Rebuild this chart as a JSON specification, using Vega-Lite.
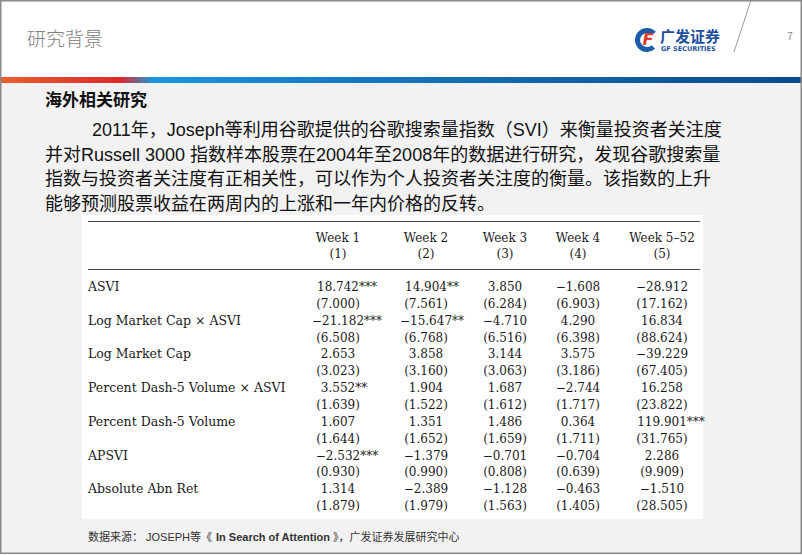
{
  "$schema": "https://vega.github.io/schema/vega-lite/v6.json",
  "width": 802,
  "height": 555,
  "padding": 0,
  "autosize": {"type": "none"},
  "background": "#f2f2f2",
  "config": {"view": {"stroke": null}, "text": {"font": "Noto Sans CJK SC"}},
  "datasets": {
    "cells": [
      {"var": "ASVI", "stat": "b", "col": 1, "text": "18.742***", "sig": 3},
      {"var": "ASVI", "stat": "b", "col": 2, "text": "14.904**", "sig": 2},
      {"var": "ASVI", "stat": "b", "col": 3, "text": "3.850", "sig": 0},
      {"var": "ASVI", "stat": "b", "col": 4, "text": "−1.608", "sig": 0},
      {"var": "ASVI", "stat": "b", "col": 5, "text": "−28.912", "sig": 0},
      {"var": "ASVI", "stat": "se", "col": 1, "text": "(7.000)", "sig": 0},
      {"var": "ASVI", "stat": "se", "col": 2, "text": "(7.561)", "sig": 0},
      {"var": "ASVI", "stat": "se", "col": 3, "text": "(6.284)", "sig": 0},
      {"var": "ASVI", "stat": "se", "col": 4, "text": "(6.903)", "sig": 0},
      {"var": "ASVI", "stat": "se", "col": 5, "text": "(17.162)", "sig": 0},
      {"var": "Log Market Cap × ASVI", "stat": "b", "col": 1, "text": "−21.182***", "sig": 3},
      {"var": "Log Market Cap × ASVI", "stat": "b", "col": 2, "text": "−15.647**", "sig": 2},
      {"var": "Log Market Cap × ASVI", "stat": "b", "col": 3, "text": "−4.710", "sig": 0},
      {"var": "Log Market Cap × ASVI", "stat": "b", "col": 4, "text": "4.290", "sig": 0},
      {"var": "Log Market Cap × ASVI", "stat": "b", "col": 5, "text": "16.834", "sig": 0},
      {"var": "Log Market Cap × ASVI", "stat": "se", "col": 1, "text": "(6.508)", "sig": 0},
      {"var": "Log Market Cap × ASVI", "stat": "se", "col": 2, "text": "(6.768)", "sig": 0},
      {"var": "Log Market Cap × ASVI", "stat": "se", "col": 3, "text": "(6.516)", "sig": 0},
      {"var": "Log Market Cap × ASVI", "stat": "se", "col": 4, "text": "(6.398)", "sig": 0},
      {"var": "Log Market Cap × ASVI", "stat": "se", "col": 5, "text": "(88.624)", "sig": 0},
      {"var": "Log Market Cap", "stat": "b", "col": 1, "text": "2.653", "sig": 0},
      {"var": "Log Market Cap", "stat": "b", "col": 2, "text": "3.858", "sig": 0},
      {"var": "Log Market Cap", "stat": "b", "col": 3, "text": "3.144", "sig": 0},
      {"var": "Log Market Cap", "stat": "b", "col": 4, "text": "3.575", "sig": 0},
      {"var": "Log Market Cap", "stat": "b", "col": 5, "text": "−39.229", "sig": 0},
      {"var": "Log Market Cap", "stat": "se", "col": 1, "text": "(3.023)", "sig": 0},
      {"var": "Log Market Cap", "stat": "se", "col": 2, "text": "(3.160)", "sig": 0},
      {"var": "Log Market Cap", "stat": "se", "col": 3, "text": "(3.063)", "sig": 0},
      {"var": "Log Market Cap", "stat": "se", "col": 4, "text": "(3.186)", "sig": 0},
      {"var": "Log Market Cap", "stat": "se", "col": 5, "text": "(67.405)", "sig": 0},
      {"var": "Percent Dash-5 Volume × ASVI", "stat": "b", "col": 1, "text": "3.552**", "sig": 2},
      {"var": "Percent Dash-5 Volume × ASVI", "stat": "b", "col": 2, "text": "1.904", "sig": 0},
      {"var": "Percent Dash-5 Volume × ASVI", "stat": "b", "col": 3, "text": "1.687", "sig": 0},
      {"var": "Percent Dash-5 Volume × ASVI", "stat": "b", "col": 4, "text": "−2.744", "sig": 0},
      {"var": "Percent Dash-5 Volume × ASVI", "stat": "b", "col": 5, "text": "16.258", "sig": 0},
      {"var": "Percent Dash-5 Volume × ASVI", "stat": "se", "col": 1, "text": "(1.639)", "sig": 0},
      {"var": "Percent Dash-5 Volume × ASVI", "stat": "se", "col": 2, "text": "(1.522)", "sig": 0},
      {"var": "Percent Dash-5 Volume × ASVI", "stat": "se", "col": 3, "text": "(1.612)", "sig": 0},
      {"var": "Percent Dash-5 Volume × ASVI", "stat": "se", "col": 4, "text": "(1.717)", "sig": 0},
      {"var": "Percent Dash-5 Volume × ASVI", "stat": "se", "col": 5, "text": "(23.822)", "sig": 0},
      {"var": "Percent Dash-5 Volume", "stat": "b", "col": 1, "text": "1.607", "sig": 0},
      {"var": "Percent Dash-5 Volume", "stat": "b", "col": 2, "text": "1.351", "sig": 0},
      {"var": "Percent Dash-5 Volume", "stat": "b", "col": 3, "text": "1.486", "sig": 0},
      {"var": "Percent Dash-5 Volume", "stat": "b", "col": 4, "text": "0.364", "sig": 0},
      {"var": "Percent Dash-5 Volume", "stat": "b", "col": 5, "text": "119.901***", "sig": 3},
      {"var": "Percent Dash-5 Volume", "stat": "se", "col": 1, "text": "(1.644)", "sig": 0},
      {"var": "Percent Dash-5 Volume", "stat": "se", "col": 2, "text": "(1.652)", "sig": 0},
      {"var": "Percent Dash-5 Volume", "stat": "se", "col": 3, "text": "(1.659)", "sig": 0},
      {"var": "Percent Dash-5 Volume", "stat": "se", "col": 4, "text": "(1.711)", "sig": 0},
      {"var": "Percent Dash-5 Volume", "stat": "se", "col": 5, "text": "(31.765)", "sig": 0},
      {"var": "APSVI", "stat": "b", "col": 1, "text": "−2.532***", "sig": 3},
      {"var": "APSVI", "stat": "b", "col": 2, "text": "−1.379", "sig": 0},
      {"var": "APSVI", "stat": "b", "col": 3, "text": "−0.701", "sig": 0},
      {"var": "APSVI", "stat": "b", "col": 4, "text": "−0.704", "sig": 0},
      {"var": "APSVI", "stat": "b", "col": 5, "text": "2.286", "sig": 0},
      {"var": "APSVI", "stat": "se", "col": 1, "text": "(0.930)", "sig": 0},
      {"var": "APSVI", "stat": "se", "col": 2, "text": "(0.990)", "sig": 0},
      {"var": "APSVI", "stat": "se", "col": 3, "text": "(0.808)", "sig": 0},
      {"var": "APSVI", "stat": "se", "col": 4, "text": "(0.639)", "sig": 0},
      {"var": "APSVI", "stat": "se", "col": 5, "text": "(9.909)", "sig": 0},
      {"var": "Absolute Abn Ret", "stat": "b", "col": 1, "text": "1.314", "sig": 0},
      {"var": "Absolute Abn Ret", "stat": "b", "col": 2, "text": "−2.389", "sig": 0},
      {"var": "Absolute Abn Ret", "stat": "b", "col": 3, "text": "−1.128", "sig": 0},
      {"var": "Absolute Abn Ret", "stat": "b", "col": 4, "text": "−0.463", "sig": 0},
      {"var": "Absolute Abn Ret", "stat": "b", "col": 5, "text": "−1.510", "sig": 0},
      {"var": "Absolute Abn Ret", "stat": "se", "col": 1, "text": "(1.879)", "sig": 0},
      {"var": "Absolute Abn Ret", "stat": "se", "col": 2, "text": "(1.979)", "sig": 0},
      {"var": "Absolute Abn Ret", "stat": "se", "col": 3, "text": "(1.563)", "sig": 0},
      {"var": "Absolute Abn Ret", "stat": "se", "col": 4, "text": "(1.405)", "sig": 0},
      {"var": "Absolute Abn Ret", "stat": "se", "col": 5, "text": "(28.505)", "sig": 0}
    ],
    "vars": [
      {"var": "ASVI"},
      {"var": "Log Market Cap × ASVI"},
      {"var": "Log Market Cap"},
      {"var": "Percent Dash-5 Volume × ASVI"},
      {"var": "Percent Dash-5 Volume"},
      {"var": "APSVI"},
      {"var": "Absolute Abn Ret"}
    ],
    "heads": [
      {"col": 1, "week": "Week 1", "num": "(1)"},
      {"col": 2, "week": "Week 2", "num": "(2)"},
      {"col": 3, "week": "Week 3", "num": "(3)"},
      {"col": 4, "week": "Week 4", "num": "(4)"},
      {"col": 5, "week": "Week 5–52", "num": "(5)"}
    ],
    "para": [
      {"line": 1, "text": "2011年，Joseph等利用谷歌提供的谷歌搜索量指数（SVI）来衡量投资者关注度"},
      {"line": 2, "text": "并对Russell 3000 指数样本股票在2004年至2008年的数据进行研究，发现谷歌搜索量"},
      {"line": 3, "text": "指数与投资者关注度有正相关性，可以作为个人投资者关注度的衡量。该指数的上升"},
      {"line": 4, "text": "能够预测股票收益在两周内的上涨和一年内价格的反转。"}
    ]
  },
  "resolve": {"scale": {"x": "independent", "y": "independent"}},
  "layer": [
    {
      "data": {"values": [{}]},
      "mark": {"type": "rect", "fill": "#ffffff"},
      "encoding": {"x": {"value": 0}, "x2": {"value": 802}, "y": {"value": 0}, "y2": {"value": 77}}
    },
    {
      "data": {"values": [{}]},
      "mark": {
        "type": "rect",
        "color": {
          "gradient": "linear", "x1": 0, "x2": 1, "y1": 0, "y2": 0,
          "stops": [
            {"offset": 0, "color": "#e8602c"},
            {"offset": 0.15, "color": "#e0282c"},
            {"offset": 0.19, "color": "#1e96d8"},
            {"offset": 0.45, "color": "#1677bf"},
            {"offset": 1, "color": "#0b4a8c"}
          ]
        }
      },
      "encoding": {"x": {"value": 0}, "x2": {"value": 802}, "y": {"value": 77}, "y2": {"value": 83}}
    },
    {
      "data": {"values": [{}]},
      "mark": {"type": "text", "align": "left", "baseline": "middle", "fontSize": 19, "color": "#808080", "fontWeight": 300},
      "encoding": {"x": {"value": 27}, "y": {"value": 40}, "text": {"value": "研究背景"}}
    },
    {
      "data": {"values": [{}]},
      "mark": {"type": "arc", "color": "#1a5ca8"},
      "encoding": {"x": {"value": 647}, "y": {"value": 40}, "theta": {"value": 2.4}, "theta2": {"value": 7.1}, "radius": {"value": 12}, "radius2": {"value": 7}}
    },
    {
      "data": {"values": [{}]},
      "mark": {"type": "text", "align": "center", "baseline": "middle", "fontSize": 16, "fontWeight": "bold", "fontStyle": "italic", "font": "DejaVu Sans", "color": "#e33a2c"},
      "encoding": {"x": {"value": 648}, "y": {"value": 40}, "text": {"value": "F"}}
    },
    {
      "data": {"values": [{}]},
      "mark": {"type": "text", "align": "left", "baseline": "middle", "fontSize": 15, "fontWeight": "bold", "color": "#1d4f9e"},
      "encoding": {"x": {"value": 660}, "y": {"value": 37}, "text": {"value": "广发证券"}}
    },
    {
      "data": {"values": [{}]},
      "mark": {"type": "text", "align": "left", "baseline": "middle", "fontSize": 6.5, "fontWeight": "bold", "font": "DejaVu Sans", "color": "#1d4f9e"},
      "encoding": {"x": {"value": 661}, "y": {"value": 49}, "text": {"value": "GF SECURITIES"}}
    },
    {
      "data": {"values": [{}]},
      "mark": {"type": "rule", "color": "#9a9a9a", "strokeWidth": 1},
      "encoding": {"x": {"value": 751}, "y": {"value": 0}, "x2": {"value": 734}, "y2": {"value": 52}}
    },
    {
      "data": {"values": [{}]},
      "mark": {"type": "text", "align": "center", "baseline": "middle", "fontSize": 10, "color": "#8a8a8a"},
      "encoding": {"x": {"value": 790}, "y": {"value": 37}, "text": {"value": "7"}}
    },
    {
      "data": {"values": [{}]},
      "mark": {"type": "text", "align": "left", "baseline": "middle", "fontSize": 17, "fontWeight": "bold", "color": "#111111"},
      "encoding": {"x": {"value": 45}, "y": {"value": 101}, "text": {"value": "海外相关研究"}}
    },
    {
      "data": {"name": "para"},
      "transform": [{"filter": "datum.line == 1"}],
      "mark": {"type": "text", "align": "left", "baseline": "middle", "fontSize": 18, "font": "Liberation Sans, Noto Sans CJK SC", "color": "#111111"},
      "encoding": {
        "x": {"value": 92},
        "y": {"field": "line", "type": "quantitative", "scale": {"domain": [1, 4], "range": [131, 205]}, "axis": null},
        "text": {"field": "text"}
      }
    },
    {
      "data": {"name": "para"},
      "transform": [{"filter": "datum.line > 1"}],
      "mark": {"type": "text", "align": "left", "baseline": "middle", "fontSize": 18, "font": "Liberation Sans, Noto Sans CJK SC", "color": "#111111"},
      "encoding": {
        "x": {"value": 45},
        "y": {"field": "line", "type": "quantitative", "scale": {"domain": [1, 4], "range": [131, 205]}, "axis": null},
        "text": {"field": "text"}
      }
    },
    {
      "data": {"values": [{}]},
      "mark": {"type": "rect", "fill": "#ffffff"},
      "encoding": {"x": {"value": 82}, "x2": {"value": 703}, "y": {"value": 215}, "y2": {"value": 519}}
    },
    {
      "data": {"values": [{}]},
      "mark": {"type": "rule", "color": "#4a4a4a", "strokeWidth": 1},
      "encoding": {"x": {"value": 88}, "x2": {"value": 700}, "y": {"value": 221.5}}
    },
    {
      "data": {"values": [{}]},
      "mark": {"type": "rule", "color": "#4a4a4a", "strokeWidth": 1},
      "encoding": {"x": {"value": 88}, "x2": {"value": 700}, "y": {"value": 269.5}}
    },
    {
      "data": {"name": "heads"},
      "mark": {"type": "text", "align": "center", "baseline": "middle", "fontSize": 12, "font": "DejaVu Serif", "color": "#1a1a1a"},
      "encoding": {
        "x": {"field": "col", "type": "quantitative", "scale": {"domain": [1, 2, 3, 4, 5], "range": [338, 426, 505, 578, 662]}, "axis": null},
        "y": {"value": 238},
        "text": {"field": "week"}
      }
    },
    {
      "data": {"name": "heads"},
      "mark": {"type": "text", "align": "center", "baseline": "middle", "fontSize": 12, "font": "DejaVu Serif", "color": "#1a1a1a"},
      "encoding": {
        "x": {"field": "col", "type": "quantitative", "scale": {"domain": [1, 2, 3, 4, 5], "range": [338, 426, 505, 578, 662]}, "axis": null},
        "y": {"value": 254},
        "text": {"field": "num"}
      }
    },
    {
      "data": {"name": "vars"},
      "mark": {"type": "text", "align": "left", "baseline": "middle", "fontSize": 12.5, "font": "DejaVu Serif", "color": "#1a1a1a"},
      "encoding": {
        "x": {"value": 88},
        "y": {"field": "var", "type": "nominal", "sort": null, "scale": {"type": "point", "range": [287, 489.2], "padding": 0}, "axis": null},
        "text": {"field": "var"}
      }
    },
    {
      "data": {"name": "cells"},
      "transform": [{"filter": "datum.sig == 0 && datum.stat == 'b'"}],
      "mark": {"type": "text", "align": "center", "baseline": "middle", "fontSize": 12, "font": "DejaVu Serif", "color": "#1a1a1a"},
      "encoding": {
        "x": {"field": "col", "type": "quantitative", "scale": {"domain": [1, 2, 3, 4, 5], "range": [338, 426, 505, 578, 662]}, "axis": null},
        "y": {"field": "var", "type": "nominal", "sort": null, "scale": {"type": "point", "domain": ["ASVI", "Log Market Cap × ASVI", "Log Market Cap", "Percent Dash-5 Volume × ASVI", "Percent Dash-5 Volume", "APSVI", "Absolute Abn Ret"], "range": [287, 489.2], "padding": 0}, "axis": null},
        "text": {"field": "text"}
      }
    },
    {
      "data": {"name": "cells"},
      "transform": [{"filter": "datum.stat == 'se'"}],
      "mark": {"type": "text", "align": "center", "baseline": "middle", "fontSize": 12, "font": "DejaVu Serif", "color": "#1a1a1a", "dy": 16.9},
      "encoding": {
        "x": {"field": "col", "type": "quantitative", "scale": {"domain": [1, 2, 3, 4, 5], "range": [338, 426, 505, 578, 662]}, "axis": null},
        "y": {"field": "var", "type": "nominal", "sort": null, "scale": {"type": "point", "domain": ["ASVI", "Log Market Cap × ASVI", "Log Market Cap", "Percent Dash-5 Volume × ASVI", "Percent Dash-5 Volume", "APSVI", "Absolute Abn Ret"], "range": [287, 489.2], "padding": 0}, "axis": null},
        "text": {"field": "text"}
      }
    },
    {
      "data": {"name": "cells"},
      "transform": [{"filter": "datum.sig == 2"}],
      "mark": {"type": "text", "align": "center", "baseline": "middle", "fontSize": 12, "font": "DejaVu Serif", "color": "#1a1a1a", "dx": 6},
      "encoding": {
        "x": {"field": "col", "type": "quantitative", "scale": {"domain": [1, 2, 3, 4, 5], "range": [338, 426, 505, 578, 662]}, "axis": null},
        "y": {"field": "var", "type": "nominal", "sort": null, "scale": {"type": "point", "domain": ["ASVI", "Log Market Cap × ASVI", "Log Market Cap", "Percent Dash-5 Volume × ASVI", "Percent Dash-5 Volume", "APSVI", "Absolute Abn Ret"], "range": [287, 489.2], "padding": 0}, "axis": null},
        "text": {"field": "text"}
      }
    },
    {
      "data": {"name": "cells"},
      "transform": [{"filter": "datum.sig == 3"}],
      "mark": {"type": "text", "align": "center", "baseline": "middle", "fontSize": 12, "font": "DejaVu Serif", "color": "#1a1a1a", "dx": 9},
      "encoding": {
        "x": {"field": "col", "type": "quantitative", "scale": {"domain": [1, 2, 3, 4, 5], "range": [338, 426, 505, 578, 662]}, "axis": null},
        "y": {"field": "var", "type": "nominal", "sort": null, "scale": {"type": "point", "domain": ["ASVI", "Log Market Cap × ASVI", "Log Market Cap", "Percent Dash-5 Volume × ASVI", "Percent Dash-5 Volume", "APSVI", "Absolute Abn Ret"], "range": [287, 489.2], "padding": 0}, "axis": null},
        "text": {"field": "text"}
      }
    },
    {
      "data": {"values": [{}]},
      "mark": {"type": "text", "align": "left", "baseline": "middle", "fontSize": 11, "font": "Liberation Sans, Noto Sans CJK SC", "color": "#333333"},
      "encoding": {"x": {"value": 88}, "y": {"value": 538}, "text": {"value": "数据来源： JOSEPH等《"}}
    },
    {
      "data": {"values": [{}]},
      "mark": {"type": "text", "align": "left", "baseline": "middle", "fontSize": 11, "fontWeight": "bold", "font": "Liberation Sans", "color": "#333333"},
      "encoding": {"x": {"value": 216}, "y": {"value": 538}, "text": {"value": "In Search of Attention"}}
    },
    {
      "data": {"values": [{}]},
      "mark": {"type": "text", "align": "left", "baseline": "middle", "fontSize": 11, "font": "Liberation Sans, Noto Sans CJK SC", "color": "#333333"},
      "encoding": {"x": {"value": 333}, "y": {"value": 538}, "text": {"value": "》，广发证券发展研究中心"}}
    },
    {
      "data": {"values": [{}]},
      "mark": {"type": "rect", "fill": null, "stroke": "#8a8a8a", "strokeWidth": 1.5},
      "encoding": {"x": {"value": 0.75}, "x2": {"value": 801.25}, "y": {"value": 0.75}, "y2": {"value": 553.25}}
    }
  ]
}
